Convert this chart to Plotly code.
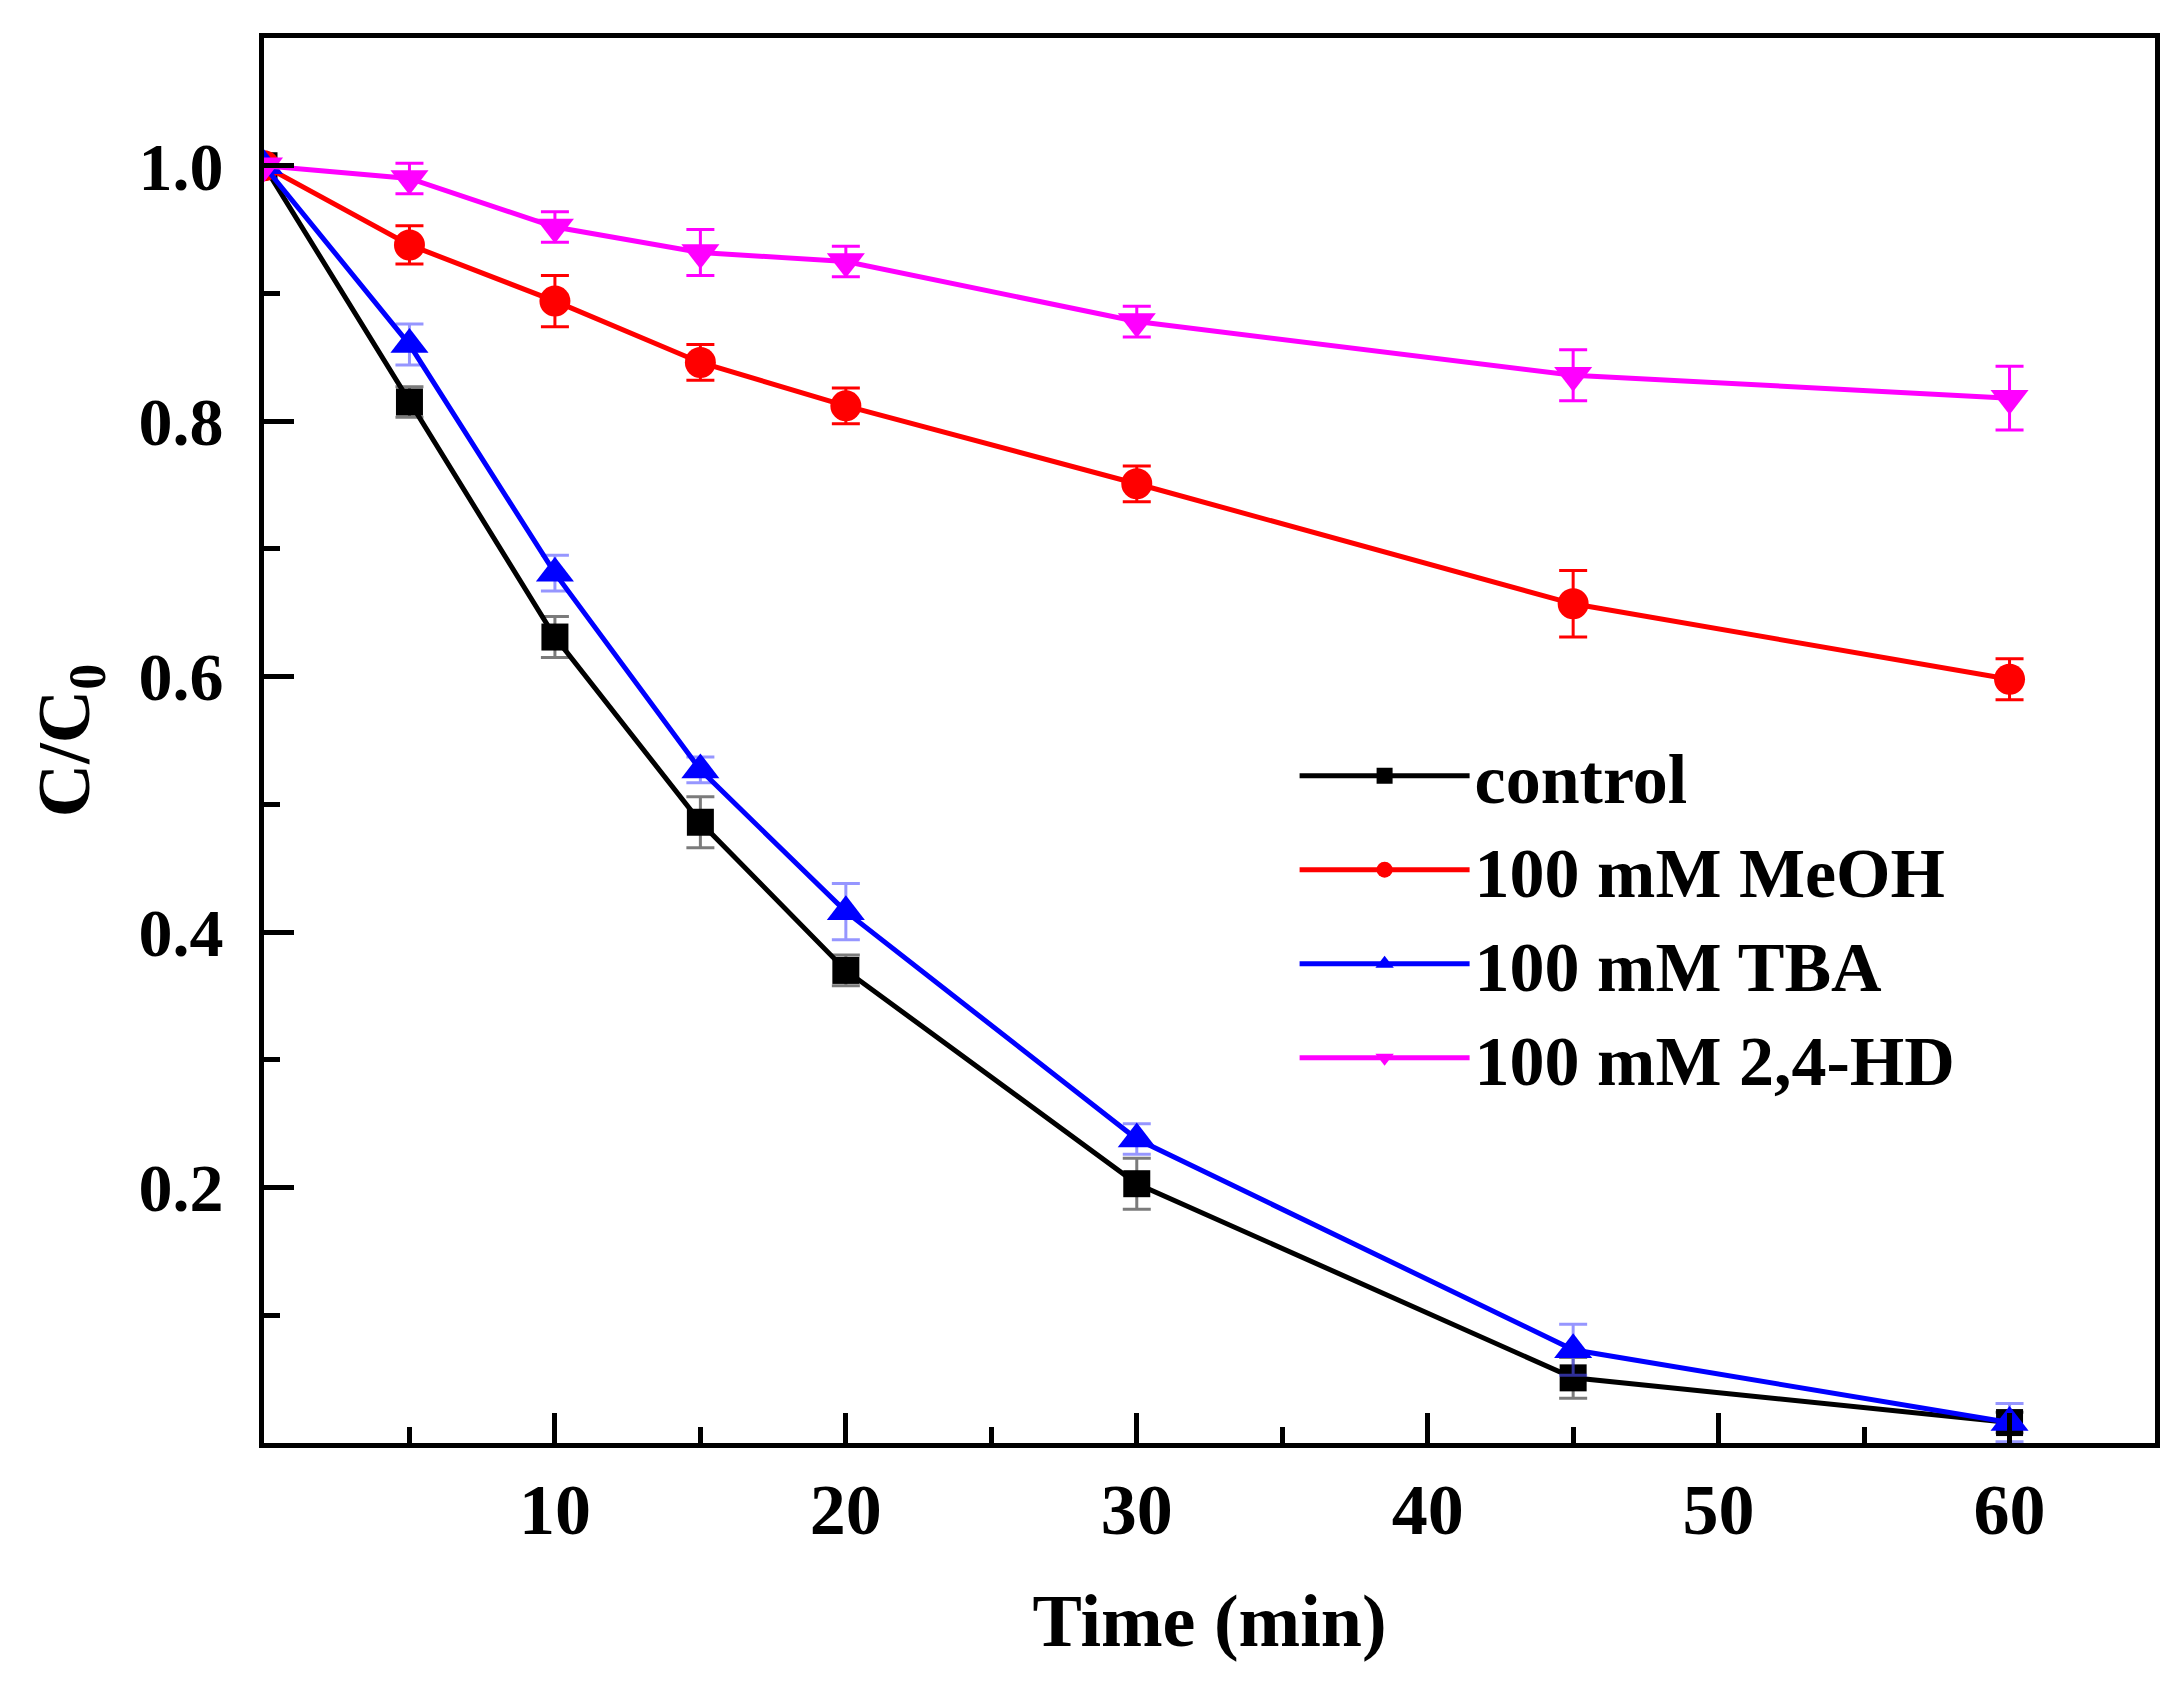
import plotly.graph_objects as go

time = [0, 5, 10, 15, 20, 30, 45, 60]

control = [1.0, 0.815, 0.631, 0.486, 0.370, 0.203, 0.051, 0.016]
control_err = [0.0, 0.012, 0.016, 0.020, 0.012, 0.020, 0.016, 0.008]

meoh = [1.0, 0.938, 0.894, 0.846, 0.812, 0.751, 0.657, 0.598]
meoh_err = [0.0, 0.015, 0.020, 0.014, 0.014, 0.014, 0.026, 0.016]

tba = [1.0, 0.860, 0.681, 0.527, 0.416, 0.238, 0.073, 0.016]
tba_err = [0.0, 0.016, 0.014, 0.010, 0.022, 0.012, 0.020, 0.015]

hd = [1.0, 0.990, 0.952, 0.932, 0.925, 0.878, 0.836, 0.818]
hd_err = [0.0, 0.012, 0.012, 0.018, 0.012, 0.012, 0.020, 0.025]

names = ["control", "100 mM MeOH", "100 mM TBA", "100 mM 2,4-HD"]
colors = ["#000000", "#ff0000", "#0000ff", "#ff00ff"]
err_colors = ["rgba(90,90,90,0.8)", "#ff0000", "rgba(80,80,255,0.6)", "#ff00ff"]
symbols = ["square", "circle", "triangle-up", "triangle-down"]
sizes = [27, 31, 33, 33]

x_ticks = [10, 20, 30, 40, 50, 60]
x_minor = [5, 15, 25, 35, 45, 55]
y_ticks = [0.2, 0.4, 0.6, 0.8, 1.0]
y_minor = [0.1, 0.3, 0.5, 0.7, 0.9]

FONT = "Liberation Serif"

fig = go.Figure()
for ys, es, name, c, ec, sym, sz in zip(
    [control, meoh, tba, hd],
    [control_err, meoh_err, tba_err, hd_err],
    names, colors, err_colors, symbols, sizes,
):
    fig.add_trace(go.Scatter(
        x=time, y=ys, name=name, mode="lines+markers",
        line=dict(color=c, width=5),
        marker=dict(symbol=sym, size=sz, color=c),
        error_y=dict(type="data", array=es, visible=True, color=ec,
                     thickness=3, width=14),
    ))

axis_common = dict(
    showgrid=False, zeroline=False, showline=True, linecolor="black",
    linewidth=5, mirror=True, ticks="inside", ticklen=30, tickwidth=5,
    tickcolor="black",
)

fig.update_xaxes(
    range=[0, 65], tickvals=x_ticks, ticklabelstandoff=0,
    tickfont=dict(family=FONT, size=72, color="black", weight="bold"),
    minor=dict(tickvals=x_minor, ticks="inside", ticklen=16, tickwidth=5, tickcolor="black"),
    title=dict(text="Time (min)", font=dict(family=FONT, size=74, color="black", weight="bold"), standoff=46),
    **axis_common,
)
fig.update_yaxes(
    range=[0, 1.1], tickvals=y_ticks, tickformat=".1f", ticklabelstandoff=22,
    tickfont=dict(family=FONT, size=68, color="black", weight="bold"),
    minor=dict(tickvals=y_minor, ticks="inside", ticklen=16, tickwidth=5, tickcolor="black"),
    title=dict(text="C/C<sub>0</sub>", font=dict(family=FONT, size=74, color="black", weight="bold"), standoff=26),
    **axis_common,
)

fig.update_layout(
    width=2173, height=1685,
    margin=dict(l=256, r=26, t=30, b=250, autoexpand=False),
    paper_bgcolor="white", plot_bgcolor="white",
    showlegend=True,
    legend=dict(
        x=0.545, y=0.512, xanchor="left", yanchor="top",
        bgcolor="rgba(0,0,0,0)", borderwidth=0,
        font=dict(family=FONT, size=70, color="black", weight="bold"),
        itemwidth=170, tracegroupgap=0,
    ),
)

fig.write_html("out.html")
